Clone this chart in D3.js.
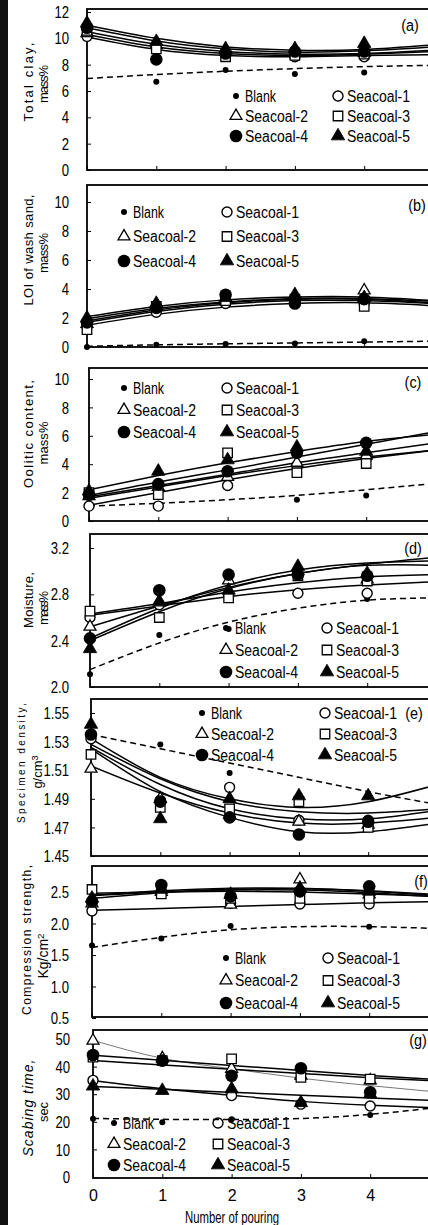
<!DOCTYPE html>
<html>
<head>
<meta charset="utf-8">
<script src="https://cdn.jsdelivr.net/npm/d3@7"></script>
<style>
body { margin: 0; background: #fff; overflow: hidden; }
.num { font-family: "Liberation Sans", Arial, sans-serif; }
.ttl { font-family: "Liberation Sans", Arial, sans-serif; }
</style>
</head>
<body>
<div id="chart"></div>
<script>
// ---- data ----
const pourings = [0, 1, 2, 3, 4];
const fitSteps = [0, 1, 2, 3, 4, 5];
const seriesNames = ['Blank', 'Seacoal-1', 'Seacoal-2', 'Seacoal-3', 'Seacoal-4', 'Seacoal-5'];
const panelLetters = ['(a)', '(b)', '(c)', '(d)', '(e)', '(f)', '(g)'];

const clayTicks = [0, 2, 4, 6, 8, 10, 12];
const loiTicks = [0, 2, 4, 6, 8, 10];
const ooliticTicks = [0, 2, 4, 6, 8, 10];
const moistureTicks = [2.0, 2.4, 2.8, 3.2];
const densityTicks = [1.45, 1.47, 1.49, 1.51, 1.53, 1.55];
const strengthTicks = [0.5, 1.0, 1.5, 2.0, 2.5];
const scabTicks = [0, 10, 20, 30, 40, 50];

// points: Blank, Seacoal-1 ... Seacoal-5 at pouring 0..4
const clayPoints = [
  [null, 6.7, 7.6, 7.3, 7.4],
  [10.15, 9.35, 8.7, 8.6, 8.6],
  [10.4, 9.5, 9.1, 8.9, 8.9],
  [10.6, 9.2, 8.6, 8.7, 8.8],
  [10.8, 8.4, 8.85, 9.0, 9.0],
  [11.15, 9.75, 9.2, 9.2, 9.6]
];
const clayFits = [
  [6.95, 7.25, 7.5, 7.7, 7.85, 7.95],
  [10.1, 9.15, 8.7, 8.6, 8.7, 8.75],
  [10.3, 9.35, 8.85, 8.7, 8.8, 9.0],
  [10.5, 9.55, 9.0, 8.8, 8.85, 9.1],
  [10.8, 9.8, 9.2, 8.95, 9.05, 9.35],
  [11.0, 10.0, 9.35, 9.1, 9.15, 9.5]
];

const loiPoints = [
  [0.0, 0.15, 0.2, 0.25, 0.4],
  [1.4, 2.4, 3.0, 3.2, 3.0],
  [1.6, 2.9, 3.3, 3.5, 3.9],
  [1.2, 2.8, 3.2, 3.3, 2.8],
  [1.7, 2.7, 3.6, 3.0, 3.3],
  [2.0, 3.0, 3.4, 3.6, 3.4]
];
const loiFits = [
  [0.05, 0.15, 0.22, 0.28, 0.34, 0.4],
  [1.5, 2.25, 2.75, 3.0, 3.05, 2.85],
  [1.7, 2.45, 2.95, 3.2, 3.2, 3.0],
  [1.8, 2.55, 3.05, 3.3, 3.3, 3.05],
  [1.95, 2.65, 3.1, 3.35, 3.35, 3.15],
  [2.1, 2.8, 3.25, 3.45, 3.45, 3.2]
];

const ooliticPoints = [
  [1.05, 1.05, null, 1.5, 1.8],
  [1.05, 1.05, 2.5, 3.9, 4.4],
  [1.75, 2.4, 3.1, 4.1, 4.6],
  [2.0, 1.85, 4.8, 3.4, 4.05],
  [1.85, 2.6, 3.5, 4.8, 5.5],
  [2.1, 3.5, 4.3, 5.2, 4.9]
];
const ooliticFits = [
  [1.05, 1.25, 1.5, 1.8, 2.2, 2.65],
  [1.1, 2.0, 2.9, 3.7, 4.4, 5.0],
  [1.6, 2.4, 3.2, 3.9, 4.5, 5.0],
  [1.7, 2.5, 3.3, 4.1, 4.8, 5.5],
  [1.8, 2.75, 3.6, 4.5, 5.4, 6.3],
  [2.2, 3.2, 4.1, 4.9, 5.6, 6.1]
];

const moisturePoints = [
  [2.11, 2.45, 2.50, null, 2.76],
  [2.60, 2.71, 2.79, 2.81, 2.81],
  [2.52, 2.73, 2.92, 3.00, 2.93],
  [2.655, 2.60, 2.77, 2.96, 2.915],
  [2.42, 2.835, 2.97, 2.97, 2.96],
  [2.33, 2.74, 2.835, 3.04, 2.98]
];
const moistureFits = [
  [2.15, 2.38, 2.56, 2.68, 2.75, 2.77],
  [2.62, 2.70, 2.78, 2.84, 2.88, 2.91],
  [2.52, 2.70, 2.86, 2.98, 3.06, 3.12],
  [2.63, 2.72, 2.82, 2.90, 2.95, 2.97],
  [2.40, 2.65, 2.85, 2.98, 3.05, 3.05],
  [2.42, 2.68, 2.88, 3.01, 3.07, 3.09]
];

const densityPoints = [
  [1.535, 1.528, 1.508, null, 1.493],
  [1.532, 1.489, 1.498, 1.475, 1.475],
  [1.511, 1.490, 1.479, 1.474, 1.472],
  [1.521, 1.484, 1.483, 1.488, 1.470],
  [1.535, 1.488, 1.477, 1.465, 1.474],
  [1.542, 1.476, 1.490, 1.492, 1.492]
];
const densityFits = [
  [1.535, 1.525, 1.515, 1.505, 1.495, 1.486],
  [1.526, 1.500, 1.483, 1.476, 1.476, 1.482],
  [1.513, 1.494, 1.480, 1.473, 1.473, 1.477],
  [1.528, 1.504, 1.488, 1.481, 1.480, 1.483],
  [1.525, 1.495, 1.477, 1.467, 1.467, 1.473],
  [1.532, 1.505, 1.490, 1.484, 1.488, 1.500]
];

const strengthPoints = [
  [1.65, 1.76, 1.96, null, 1.95],
  [2.20, 2.51, 2.32, 2.31, 2.31],
  [2.32, 2.50, 2.30, 2.70, 2.46],
  [2.54, 2.47, 2.40, 2.40, 2.40],
  [2.35, 2.61, 2.43, 2.51, 2.59],
  [2.40, 2.54, 2.46, 2.56, 2.51]
];
const strengthFits = [
  [1.62, 1.78, 1.90, 1.95, 1.95, 1.92],
  [2.21, 2.24, 2.27, 2.30, 2.33, 2.35],
  [2.44, 2.50, 2.53, 2.53, 2.49, 2.42],
  [2.48, 2.50, 2.51, 2.50, 2.47, 2.43],
  [2.40, 2.49, 2.54, 2.55, 2.51, 2.44],
  [2.45, 2.52, 2.56, 2.56, 2.52, 2.46]
];

const scabPoints = [
  [21.1, 19.8, 20.9, null, 22.5],
  [35.0, 42.0, 29.5, 26.4, 25.7],
  [49.4, 43.0, 39.2, 36.7, 35.0],
  [43.4, 42.2, 42.8, 36.1, 35.5],
  [44.2, 42.2, 36.7, 39.4, 30.7],
  [32.9, 31.3, 31.9, 26.9, 30.1]
];
const scabFits = [
  [21.2, 20.9, 20.8, 21.2, 22.7, 25.3],
  [35.0, 32.0, 29.6, 27.4, 26.0, 25.0],
  [49.5, 43.0, 39.2, 35.8, 33.1, 30.7],
  [42.2, 40.6, 39.0, 37.5, 36.0, 34.8],
  [44.1, 42.3, 40.4, 38.6, 36.8, 35.2],
  [32.8, 31.8, 30.7, 29.6, 28.6, 27.7]
];

// ---- layout ----
const W = 428, H = 1225;
const unitX = 69.3;

const panels = [
  { pts: clayPoints, fits: clayFits, ticks: clayTicks, fmt: 'd', left: 87, top: 9, bottom: 170, yRange: [170, 12], tickX: 69,
    title: [{ t: 'Total clay,', x: 33, cy: 82, len: 79, fs: 13 }, { t: 'mass%', x: 48, cy: 84, len: 38, fs: 13 }],
    legend: { x: 236, x2: 338, y: 96, dy: 20 }, lab: [410, 25] },
  { pts: loiPoints, fits: loiFits, ticks: loiTicks, fmt: 'd', left: 87, top: 185, bottom: 347, yRange: [347, 202], tickX: 69,
    title: [{ t: 'LOI of wash sand,', x: 33, cy: 250, len: 111, fs: 13 }, { t: 'mass%', x: 48, cy: 253, len: 40, fs: 13 }],
    legend: { x: 124, x2: 227, y: 212, dy: 24.5 }, lab: [417, 205] },
  { pts: ooliticPoints, fits: ooliticFits, ticks: ooliticTicks, fmt: 'd', left: 89, top: 368, bottom: 521, yRange: [521, 379], tickX: 69,
    title: [{ t: 'Oolitic content,', x: 33, cy: 434, len: 108, fs: 13 }, { t: 'mass%', x: 48, cy: 443, len: 43, fs: 13 }],
    legend: { x: 124, x2: 227, y: 388, dy: 22 }, lab: [413, 382] },
  { pts: moisturePoints, fits: moistureFits, ticks: moistureTicks, fmt: '.1f', left: 90, top: 534, bottom: 687, yRange: [687, 548], tickX: 69,
    title: [{ t: 'Moisture,', x: 33, cy: 600, len: 56, fs: 13 }, { t: 'mass%', x: 48, cy: 608, len: 34, fs: 13 }],
    legend: { x: 226, x2: 327, y: 628, dy: 22 }, lab: [413, 548] },
  { pts: densityPoints, fits: densityFits, ticks: densityTicks, fmt: '.2f', left: 91, top: 699, bottom: 856, yRange: [856, 713], tickX: 69,
    title: [{ t: 'Specimen density,', x: 25, cy: 763, len: 120, fs: 10 }, { t: 'g/cm', sup: '3', x: 42, cy: 772, fs: 13 }],
    legend: { x: 202, x2: 325, y: 713, dy: 21 }, lab: [414, 713] },
  { pts: strengthPoints, fits: strengthFits, ticks: strengthTicks, fmt: '.1f', left: 92, top: 866, bottom: 1017, yRange: [1018, 892], tickX: 69,
    title: [{ t: 'Compression strength,', x: 31, cy: 940, len: 150, fs: 12 }, { t: 'Kg/cm', sup: '2', x: 48, cy: 956, fs: 14 }],
    legend: { x: 226, x2: 328, y: 958, dy: 22.5 }, lab: [421, 881] },
  { pts: scabPoints, fits: scabFits, ticks: scabTicks, fmt: 'd', left: 93, top: 1030, bottom: 1178, yRange: [1177, 1039], tickX: 70,
    title: [{ t: 'Scabing time,', x: 33, cy: 1108, len: 97, fs: 14, it: true }, { t: 'sec', x: 48, cy: 1112, len: 20, fs: 13 }],
    legend: { x: 114, x2: 218, y: 1123, dy: 21 }, lab: [418, 1040], xAxis: true, greyFit: 2 }
];

// squeeze glyphs horizontally to imitate the condensed face of the scan
function narrow(sel, f) {
  sel.each(function() {
    const L = this.getComputedTextLength();
    d3.select(this).attr('textLength', L * f).attr('lengthAdjust', 'spacingAndGlyphs');
  });
}

const svg = d3.select('#chart')
  .append('svg')
  .attr('width', W)
  .attr('height', H);

svg.append('rect').attr('width', W).attr('height', H).attr('fill', '#fff');

// dark scan edge on the left
svg.append('rect').attr('x', 0).attr('y', 0).attr('width', 8).attr('height', H).attr('fill', '#111');

function marker(g, k, cx, cy) {
  if (k === 0) {
    g.append('circle').attr('cx', cx).attr('cy', cy).attr('r', 3).attr('fill', '#000');
  } else if (k === 1) {
    g.append('circle').attr('cx', cx).attr('cy', cy).attr('r', 5).attr('fill', '#fff').attr('stroke', '#000').attr('stroke-width', 1.4);
  } else if (k === 4) {
    g.append('circle').attr('cx', cx).attr('cy', cy).attr('r', 6.3).attr('fill', '#000');
  } else {
    const type = k === 3 ? d3.symbolSquare : d3.symbolTriangle;
    const size = k === 3 ? 90 : (k === 2 ? 62 : 78);
    g.append('path')
      .attr('d', d3.symbol(type, size)())
      .attr('transform', `translate(${cx},${cy})`)
      .attr('fill', k === 5 ? '#000' : '#fff')
      .attr('stroke', '#000')
      .attr('stroke-width', k === 5 ? 0.8 : 1.3);
  }
}

panels.forEach(function(p, pi) {
  const xScale = d3.scaleLinear().domain([0, 5]).range([p.left, p.left + 5 * unitX]);
  const yScale = d3.scaleLinear().domain([p.ticks[0], p.ticks[p.ticks.length - 1]]).range(p.yRange);
  const g = svg.append('g');

  const clipId = 'clip' + pi;
  g.append('clipPath').attr('id', clipId)
    .append('rect').attr('x', p.left).attr('y', p.top)
    .attr('width', 5 * unitX).attr('height', p.bottom - p.top);

  // frame
  g.append('rect')
    .attr('x', p.left).attr('y', p.top)
    .attr('width', 5 * unitX).attr('height', p.bottom - p.top)
    .attr('fill', 'none').attr('stroke', '#000').attr('stroke-width', 1.8);

  // y axis (inside ticks)
  const yAxis = d3.axisLeft(yScale).tickValues(p.ticks).tickSize(-4)
    .tickPadding(p.left - p.tickX).tickFormat(d3.format(p.fmt));
  const ya = g.append('g').attr('transform', `translate(${p.left},0)`).call(yAxis);
  ya.select('.domain').remove();
  ya.attr('font-family', null).attr('font-size', null);
  ya.selectAll('text').attr('class', 'num').attr('font-size', 16).attr('dy', '0.35em').attr('fill', '#000')
    .call(narrow, 0.82);

  // x axis
  const xAxis = d3.axisBottom(xScale).tickValues(pourings).tickSize(-4).tickPadding(12)
    .tickFormat(p.xAxis ? d3.format('d') : '');
  const xa = g.append('g').attr('transform', `translate(0,${p.bottom})`).call(xAxis);
  xa.select('.domain').remove();
  xa.attr('font-family', null).attr('font-size', null);
  xa.selectAll('text').attr('class', 'num').attr('font-size', 16).attr('fill', '#000');

  // y title (rotated)
  p.title.forEach(function(l) {
    const t = g.append('text')
      .attr('class', 'ttl')
      .attr('transform', `translate(${l.x},${l.cy}) rotate(-90)`)
      .attr('text-anchor', 'middle')
      .attr('font-size', l.fs)
      .attr('font-style', l.it ? 'italic' : null)
      .text(l.t);
    if (l.len) t.attr('textLength', l.len).attr('lengthAdjust', 'spacing');
    if (l.sup) t.append('tspan').attr('font-size', l.fs * 0.7).attr('dy', -l.fs * 0.3).text(l.sup);
  });

  // legend
  seriesNames.forEach(function(name, k) {
    const lx = k % 2 === 0 ? p.legend.x : p.legend.x2;
    const ly = p.legend.y + Math.floor(k / 2) * p.legend.dy;
    marker(g, k, lx, ly);
    g.append('text')
      .attr('class', 'num')
      .attr('x', lx + 9).attr('y', ly)
      .attr('dy', '0.36em')
      .attr('font-size', 16)
      .attr('textLength', k === 0 ? 31 : 63)
      .attr('lengthAdjust', 'spacingAndGlyphs')
      .text(name);
  });

  // fitted curves
  const line = d3.line()
    .x((d, i) => xScale(fitSteps[i]))
    .y(d => yScale(d))
    .curve(d3.curveNatural);
  const cg = g.append('g').attr('clip-path', `url(#${clipId})`);
  p.fits.forEach(function(f, k) {
    const grey = p.greyFit === k;
    cg.append('path')
      .attr('d', line(f))
      .attr('fill', 'none')
      .attr('stroke', grey ? '#777' : '#000')
      .attr('stroke-width', grey ? 1 : 1.5)
      .attr('stroke-dasharray', k === 0 ? '6,4' : null);
  });

  // data points
  p.pts.forEach(function(vals, k) {
    vals.forEach(function(v, i) {
      if (v === null) return;
      marker(g, k, xScale(pourings[i]), yScale(v));
    });
  });

  // panel letter
  g.append('text')
    .attr('class', 'num')
    .attr('x', p.lab[0]).attr('y', p.lab[1])
    .attr('dy', '0.36em')
    .attr('text-anchor', 'middle')
    .attr('font-size', 16)
    .text(panelLetters[pi])
    .call(narrow, 0.9);

  if (p.xAxis) {
    g.append('text')
      .attr('class', 'num')
      .attr('x', 232).attr('y', 1217)
      .attr('dy', '0.36em')
      .attr('text-anchor', 'middle')
      .attr('font-size', 16)
      .attr('textLength', 94)
      .attr('lengthAdjust', 'spacingAndGlyphs')
      .text('Number of pouring');
  }
});
</script>
</body>
</html>
